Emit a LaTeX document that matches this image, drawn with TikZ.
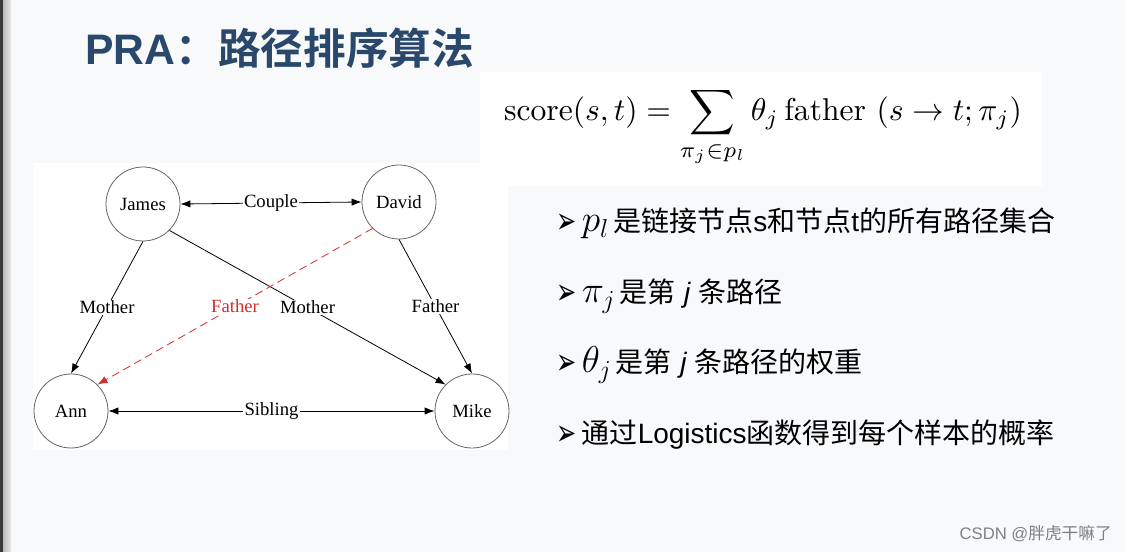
\documentclass[tikz,border=0pt]{standalone}
\usepackage{fontspec}
\usepackage{graphicx}
\newfontfamily\timesfont{Liberation Serif}
\newfontfamily\cjk[BoldFont={Noto Sans CJK SC Bold}]{Noto Sans CJK SC}
\newfontfamily\arial{Liberation Sans}
\newfontfamily\dingfont{DejaVu Sans}
\usetikzlibrary{arrows.meta}
\definecolor{titleblue}{RGB}{41,72,107}
\definecolor{pagebg}{RGB}{248,249,251}
\definecolor{fatherred}{RGB}{214,44,44}
\newcommand{\bulletmark}{\raisebox{-1.5pt}{\scalebox{0.95}[1.45]{\dingfont\fontsize{19}{22}\selectfont\char"27A2}}}
\begin{document}
\begin{tikzpicture}
[x=0.75pt, y=-0.75pt,
  persondecorate/.style={shape=circle, minimum size=55.5pt, inner sep=0pt,
    draw=black!60, line width=0.6pt, font=\timesfont\fontsize{14}{16}\selectfont},
  linedecorate/.style={-{Latex[length=7.5pt,width=5.5pt]}, line width=0.6pt},
  bothdecorate/.style={{Latex[length=7.5pt,width=5.5pt]}-{Latex[length=7.5pt,width=5.5pt]}, line width=0.6pt},
  labeldecorate/.style={fill=white, inner sep=1pt, font=\timesfont\fontsize{14}{16}\selectfont},
  bulletdecorate/.style={anchor=base west, inner sep=0pt, font=\fontsize{21}{24}\selectfont}]
%% page and white panels
\useasboundingbox (0,0) rectangle (1125,552);
\fill[pagebg] (0,0) rectangle (1125,552);
\fill[black!78] (0,0) rectangle (3,552);
\shade[left color=black!28, right color=black!8] (3,0) rectangle (11,552);
\fill[white] (480,72) rectangle (1042,186);
\fill[white] (33,163) rectangle (508,450);
%% title and formula
\node (title) at (85,65) [anchor=base west, inner sep=0pt, text=titleblue,
  font=\fontsize{32}{36}\selectfont] {{\arial\bfseries PRA}{\cjk\bfseries ：路径排序算法}};
\node (formula) at (763,127) {\scalebox{2.37}{$\displaystyle \mathrm{score}(s,t)=\sum_{\pi_j\in p_l}\theta_j\,\mathrm{father}\ (s\rightarrow t;\pi_j)$}};
%% nodes or vertices
\foreach \nodename/\x/\y in {James/143/204, David/399/202, Ann/71/411, Mike/472/411}
{
  \node (\nodename) at (\x,\y) [persondecorate] {\nodename};
}
%% edges or lines
\foreach \startnode/\endnode/\relation in {James.south/Ann.north/Mother,
  James.south east/Mike.north west/Mother, David.south/Mike.north/Father}
{
  \draw[linedecorate] (\startnode) -- node[labeldecorate] {\relation} (\endnode);
}
\foreach \startnode/\endnode/\relation in {James/David/Couple, Ann/Mike/Sibling}
{
  \draw[bothdecorate] (\startnode.east) -- node[labeldecorate] {\relation} (\endnode.west);
}
\draw[linedecorate, fatherred, dash pattern=on 6pt off 3.5pt] (David.south west)
  -- node[labeldecorate, text=fatherred] {Father} (Ann.north east);
%% bullet lines
\foreach \itemname/\y/\content in {
  first/232/{\scalebox{1.35}{$p_l$}\hspace{0.15em}{\cjk 是链接节点}{\arial s}{\cjk 和节点}{\arial t}{\cjk 的所有路径集合}},
  second/303/{\scalebox{1.35}{$\pi_j$}\hspace{0.15em}{\cjk 是第} {\arial\itshape j} {\cjk 条路径}},
  third/373/{\scalebox{1.35}{$\theta_j$}\hspace{0.15em}{\cjk 是第} {\arial\itshape j} {\cjk 条路径的权重}},
  fourth/443/{{\cjk 通过}{\arial Logistics}{\cjk 函数得到每个样本的概率}}}
{
  \node (\itemname) at (556,\y) [bulletdecorate] {\bulletmark\hspace{4pt}\content};
}
%% watermark
\node (mark) at (1112,539) [anchor=base east, inner sep=0pt, text=black!50,
  font=\fontsize{12.5}{14}\selectfont] {{\arial CSDN @}{\cjk 胖虎干嘛了}};
\end{tikzpicture}
\end{document}
